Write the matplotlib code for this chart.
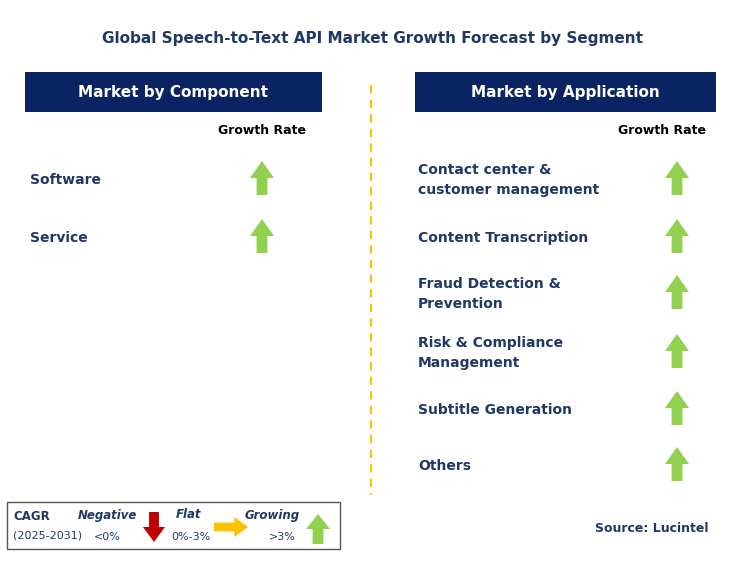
import matplotlib
matplotlib.use("Agg")
import matplotlib.pyplot as plt
from matplotlib.patches import Polygon, Rectangle

title = "Global Speech-to-Text API Market Growth Forecast by Segment"
left_header = "Market by Component"
right_header = "Market by Application"
component_labels = ["Software", "Service"]
component_growth = ["up", "up"]
application_labels = ["Contact center &\ncustomer management", "Content Transcription",
                      "Fraud Detection &\nPrevention", "Risk & Compliance\nManagement",
                      "Subtitle Generation", "Others"]
application_growth = ["up", "up", "up", "up", "up", "up"]
component_y = [178, 236]
application_y = [178, 236, 292, 351, 408, 464]

NAVY = "#0a2463"
TXT = "#1f3864"
GREEN = "#92d050"
RED = "#c00000"
YEL = "#ffc000"

fig = plt.figure(figsize=(7.45, 5.66), dpi=100)
ax = fig.add_axes([0, 0, 1, 1])
ax.set_xlim(0, 745)
ax.set_ylim(566, 0)
ax.axis("off")

def arrow(cx, cy, kind, w=24, h=34):
    sw = w * 0.45
    hh = h * 0.5
    if kind == "up":
        pts = [(cx, cy - h/2), (cx + w/2, cy - h/2 + hh), (cx + sw/2, cy - h/2 + hh),
               (cx + sw/2, cy + h/2), (cx - sw/2, cy + h/2), (cx - sw/2, cy - h/2 + hh),
               (cx - w/2, cy - h/2 + hh)]
        c = GREEN
    elif kind == "down":
        pts = [(cx, cy + h/2), (cx + w/2, cy + h/2 - hh), (cx + sw/2, cy + h/2 - hh),
               (cx + sw/2, cy - h/2), (cx - sw/2, cy - h/2), (cx - sw/2, cy + h/2 - hh),
               (cx - w/2, cy + h/2 - hh)]
        c = RED
    else:
        L, H = h, w
        pts = [(cx + L/2, cy), (cx + L/2 - L*0.4, cy - H/2), (cx + L/2 - L*0.4, cy - H*0.22),
               (cx - L/2, cy - H*0.22), (cx - L/2, cy + H*0.22), (cx + L/2 - L*0.4, cy + H*0.22),
               (cx + L/2 - L*0.4, cy + H/2)]
        c = YEL
    ax.add_patch(Polygon(pts, closed=True, color=c, lw=0))

ax.text(372, 38, title, ha="center", va="center", fontsize=11, fontweight="bold", color=TXT)

for x0, w, hdr in [(25, 297, left_header), (415, 301, right_header)]:
    ax.add_patch(Rectangle((x0, 72), w, 40, color=NAVY, lw=0))
    ax.text(x0 + w/2, 92, hdr, ha="center", va="center", fontsize=11, fontweight="bold", color="white")

ax.text(262, 131, "Growth Rate", ha="center", va="center", fontsize=9, fontweight="bold", color="black")
ax.text(662, 131, "Growth Rate", ha="center", va="center", fontsize=9, fontweight="bold", color="black")

for lab, g, y in zip(component_labels, component_growth, component_y):
    ax.text(30, y + 2, lab, ha="left", va="center", fontsize=10, fontweight="bold", color=TXT)
    arrow(262, y, g)
for lab, g, y in zip(application_labels, application_growth, application_y):
    ax.text(418, y + 2, lab, ha="left", va="center", fontsize=10, fontweight="bold", color=TXT,
            linespacing=1.5)
    arrow(677, y, g)

ax.plot([371, 371], [85, 495], color=YEL, lw=1.5, ls=(0, (4, 3)))

ax.add_patch(Rectangle((7, 502), 333, 47, fill=False, ec="#555555", lw=1))
ax.text(13, 517, "CAGR", fontsize=8.5, fontweight="bold", color=TXT, va="center")
ax.text(13, 536, "(2025-2031)", fontsize=8, color=TXT, va="center")
ax.text(107, 515, "Negative", fontsize=8.5, fontweight="bold", style="italic", color=TXT, ha="center", va="center")
ax.text(107, 537, "<0%", fontsize=8, color=TXT, ha="center", va="center")
arrow(154, 527, "down", w=22, h=30)
ax.text(189, 515, "Flat", fontsize=8.5, fontweight="bold", style="italic", color=TXT, ha="center", va="center")
ax.text(191, 537, "0%-3%", fontsize=8, color=TXT, ha="center", va="center")
arrow(231, 527, "flat", w=20, h=34)
ax.text(272, 515, "Growing", fontsize=8.5, fontweight="bold", style="italic", color=TXT, ha="center", va="center")
ax.text(282, 537, ">3%", fontsize=8, color=TXT, ha="center", va="center")
arrow(318, 529, "up", w=24, h=30)

ax.text(652, 528, "Source: Lucintel", ha="center", va="center", fontsize=9, fontweight="bold", color=TXT)

fig.savefig("out.png", dpi=100)
